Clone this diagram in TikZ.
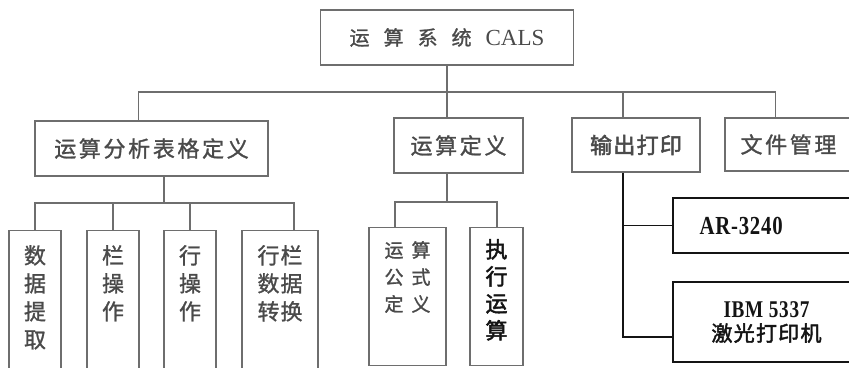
\documentclass[tikz,border=0pt]{standalone}
\usepackage{fontspec}
\setmainfont{Liberation Serif}
\newfontfamily\cjk[FakeBold=1.2]{Noto Sans CJK SC}
\newfontfamily\cjkwide[FakeBold=1.2,LetterSpace=12]{Noto Sans CJK SC}
\newfontfamily\cjkbold[FakeBold=2.2,LetterSpace=6]{Noto Sans CJK SC}
\newfontfamily\numfont[FakeStretch=0.8,LetterSpace=3]{Liberation Serif}
\usetikzlibrary{positioning}

\definecolor{linegray}{HTML}{6E6E6E}
\definecolor{inkgray}{HTML}{4A4A4A}
\definecolor{inkdark}{HTML}{141414}

\begin{document}
\begin{tikzpicture}[x=1pt, y=-1pt,
    box/.style={draw=linegray, line width=1.2pt, text=inkgray, inner sep=0pt, minimum height=55pt},
    tallbox/.style={draw=linegray, line width=1.2pt, anchor=north, inner sep=0pt},
    vtext/.style={text=inkgray, align=center, inner sep=0pt},
    link/.style={draw=linegray, line width=1.2pt},
    darklink/.style={draw=inkdark, line width=1.3pt}
]
    \useasboundingbox (0,0) rectangle (849,367);
    \clip (0,0) rectangle (849,367);
    \fill[white] (0,0) rectangle (849,367);

    % top of the tree
    \node[box, minimum width=253pt] (sys) at (447,37.5)
        {{\cjk\fontsize{20}{20}\selectfont 运\hspace{14pt}算\hspace{14pt}系\hspace{14pt}统}\hspace{14pt}{\fontsize{23}{23}\selectfont CALS}};

    % second level
    \node[box, minimum width=233pt, font=\cjkwide\fontsize{22}{22}\selectfont] (fx) at (151.5,148.5) {运算分析表格定义};
    \node[box, minimum width=129pt, font=\cjkwide\fontsize{22}{22}\selectfont] (dy) at (458.5,145.5) {运算定义};
    \node[box, minimum width=128pt, minimum height=54pt, font=\cjkbold\fontsize{22}{22}\selectfont] (sc) at (636,145) {输出打印};
    \node[box, minimum width=127pt, minimum height=53pt, font=\cjkwide\fontsize{22}{22}\selectfont] (wj) at (788.5,144.5) {文件管理};

    \coordinate (bus) at (447,92);
    \draw[link] (sys.south) -- (sys.south |- dy.north);
    \draw[link] ([xshift=-13pt]fx.north) |- (bus) -| ([xshift=-13pt]wj.north);
    \draw[link] ([xshift=-13pt]sc.north) -- ([xshift=-13pt]sc.north |- bus);

    % table definition branch
    \node[tallbox, minimum width=52pt, minimum height=150pt] (sj) at (35,230) {};
    \node[tallbox, minimum width=52pt, minimum height=150pt] (lc) at (113,230) {};
    \node[tallbox, minimum width=52pt, minimum height=150pt] (hc) at (190,230) {};
    \node[tallbox, minimum width=76pt, minimum height=150pt] (zh) at (280,230) {};
    \node[vtext, font=\cjk\fontsize{22}{28}\selectfont, below=15pt of sj.north] (sjt) {数\\据\\提\\取};
    \node[vtext, font=\cjk\fontsize{22}{28}\selectfont, below=15pt of lc.north] (lct) {栏\\操\\作};
    \node[vtext, font=\cjk\fontsize{22}{28}\selectfont, below=15pt of hc.north] (hct) {行\\操\\作};
    \node[vtext, font=\cjk\fontsize{22}{28}\selectfont, below=15pt of zh.north] (zht) {行\hspace{1pt}栏\\数\hspace{1pt}据\\转\hspace{1pt}换};

    \coordinate (fxbus) at (164,203);
    \draw[link] ([xshift=12.5pt]fx.south) -- ([xshift=12.5pt]fx.south |- fxbus);
    \draw[link] (sj.north) |- ([xshift=14pt]zh.north |- fxbus) -- ([xshift=14pt]zh.north);
    \draw[link] (lc.north) -- (lc.north |- fxbus);
    \draw[link] (hc.north) -- (hc.north |- fxbus);

    % operation definition branch
    \node[tallbox, minimum width=77pt, minimum height=138pt] (gs) at (407.5,227) {};
    \node[tallbox, minimum width=53pt, minimum height=138pt] (zx) at (496.5,227) {};
    \node[vtext, font=\cjk\fontsize{19}{27}\selectfont, below=14pt of gs.north] (gst) {运\hspace{8pt}算\\公\hspace{8pt}式\\定\hspace{8pt}义};
    \node[vtext, text=inkdark, font=\cjkbold\fontsize{22}{27}\selectfont, below=12pt of zx.north] (zxt) {执\\行\\运\\算};

    \coordinate (dybus) at (447,202);
    \draw[link] ([xshift=-11.5pt]dy.south) -- ([xshift=-11.5pt]dy.south |- dybus);
    \draw[link] ([xshift=-12.5pt]gs.north) |- ([xshift=0.5pt]zx.north |- dybus) -- ([xshift=0.5pt]zx.north);

    % printers
    \node[draw=inkdark, line width=1.4pt, minimum width=187pt, minimum height=55pt, inner sep=0pt] (ar) at (766.5,225.5) {};
    \node[anchor=west, inner sep=0pt, text=inkdark, font=\numfont\bfseries\fontsize{26}{26}\selectfont, right=27pt of ar.west] (art) {AR-3240};
    \node[draw=inkdark, line width=1.4pt, minimum width=187pt, minimum height=80pt, inner sep=0pt, align=center, text=inkdark, font=\fontsize{24}{24}\selectfont] (ibm) at (766.5,322)
        {{\numfont\bfseries IBM 5337}\\{\cjkbold\fontsize{21}{24}\selectfont 激光打印机}};

    \draw[darklink] ([xshift=-13pt]sc.south) |- ([yshift=-15pt]ibm.west);
    \draw[darklink] ([xshift=-13pt]sc.south |- ar.west) -- (ar.west);
\end{tikzpicture}
\end{document}
